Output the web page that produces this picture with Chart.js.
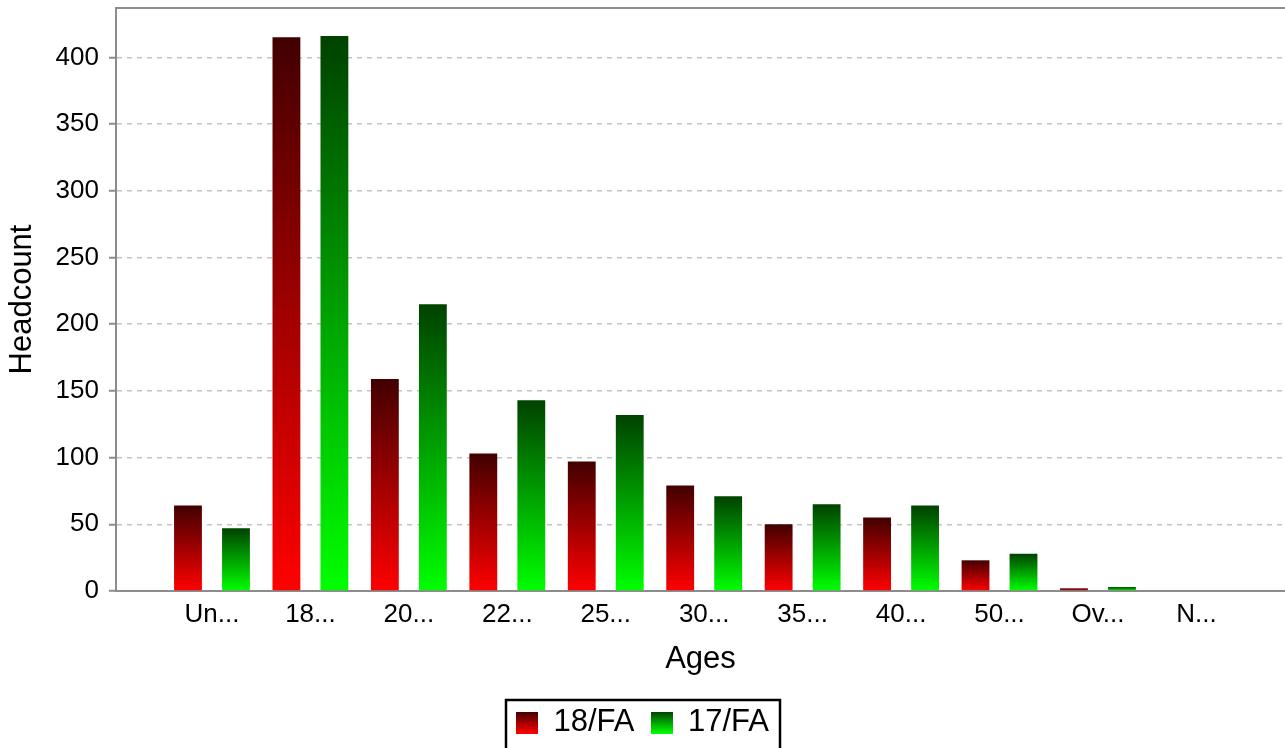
<!DOCTYPE html>
<html>
<head>
<meta charset="utf-8">
<script src="https://cdn.jsdelivr.net/npm/chart.js@4.4.1/dist/chart.umd.min.js"></script>
<style>
  html, body { margin: 0; padding: 0; background: #fff; }
  #wrap { width: 1285px; height: 748px; }
</style>
</head>
<body>
<div id="wrap"><canvas id="chart"></canvas></div>
<script>
const ageGroups = ['Un...', '18...', '20...', '22...', '25...', '30...', '35...', '40...', '50...', 'Ov...', 'N...'];
const headcount18 = [64, 415, 159, 103, 97, 79, 50, 55, 23, 2, 0];
const headcount17 = [47, 416, 215, 143, 132, 71, 65, 64, 28, 3, 0];
const yTicks = [0, 50, 100, 150, 200, 250, 300, 350, 400];
const seriesNames = ['18/FA', '17/FA'];

const FONT = "'Liberation Sans', Arial, sans-serif";
const reds = ['#420000', '#ff0000'];
const greens = ['#004200', '#00ff00'];

// vertical gradient per bar, dark on top
function barGradient(cols) {
  return function(ctx) {
    const chart = ctx.chart;
    const y = chart.scales.y;
    if (!y || ctx.type !== 'data' || !ctx.parsed) return cols[1];
    const yTop = y.getPixelForValue(ctx.parsed.y);
    const yBase = y.getPixelForValue(0);
    if (!isFinite(yTop) || yBase - yTop < 1) return cols[0];
    const g = chart.ctx.createLinearGradient(0, yTop, 0, yBase);
    g.addColorStop(0, cols[0]);
    g.addColorStop(1, cols[1]);
    return g;
  };
}

function swatch(cols) {
  const c = document.createElement('canvas');
  c.width = 22; c.height = 22;
  const g = c.getContext('2d');
  const gr = g.createLinearGradient(0, 0, 0, 22);
  gr.addColorStop(0, cols[0]);
  gr.addColorStop(1, cols[1]);
  g.fillStyle = gr;
  g.fillRect(0, 0, 22, 22);
  return c;
}
const swatches = [swatch(reds), swatch(greens)];

const framePlugin = {
  id: 'frame',
  afterDraw(chart) {
    const ctx = chart.ctx;
    const area = chart.chartArea;
    ctx.save();
    ctx.strokeStyle = '#8c8c8c';
    ctx.lineWidth = 2;
    ctx.beginPath();
    ctx.moveTo(area.left, area.top);
    ctx.lineTo(chart.width, area.top);
    ctx.stroke();

    const boxes = chart.legend && chart.legend.legendHitBoxes;
    if (boxes && boxes.length) {
      const first = boxes[0], last = boxes[boxes.length - 1];
      const l = first.left - 10;
      const r = last.left + last.width + 11;
      const t = first.top - 7;
      ctx.strokeStyle = '#000';
      ctx.lineWidth = 2.5;
      ctx.strokeRect(l, t, r - l, chart.height + 10 - t);
    }
    ctx.restore();
  }
};

new Chart(document.getElementById('chart'), {
  type: 'bar',
  data: {
    datasets: [
      {
        label: seriesNames[0],
        data: headcount18.map((v, i) => ({ x: i, y: v })),
        backgroundColor: barGradient(reds),
        categoryPercentage: 0.975,
        barPercentage: 0.58
      },
      {
        label: seriesNames[1],
        data: headcount17.map((v, i) => ({ x: i, y: v })),
        backgroundColor: barGradient(greens),
        categoryPercentage: 0.975,
        barPercentage: 0.58
      }
    ]
  },
  options: {
    responsive: true,
    maintainAspectRatio: false,
    animation: false,
    layout: { padding: { top: 8, right: 0, left: 0, bottom: 0 } },
    plugins: {
      tooltip: { enabled: false },
      legend: {
        position: 'bottom',
        labels: {
          usePointStyle: true,
          boxWidth: 22,
          boxHeight: 22,
          padding: 16,
          color: '#000',
          font: { family: FONT, size: 31 },
          generateLabels: (chart) => chart.data.datasets.map((ds, i) => ({
            text: ds.label,
            pointStyle: swatches[i],
            fillStyle: i ? greens[1] : reds[1],
            strokeStyle: 'transparent',
            lineWidth: 0,
            hidden: false,
            datasetIndex: i
          }))
        }
      }
    },
    scales: {
      x: {
        type: 'linear',
        min: -0.975,
        max: 10.9,
        offset: false,
        grid: { display: false, offset: false },
        border: { color: '#8c8c8c', width: 2 },
        afterBuildTicks: (scale) => { scale.ticks = ageGroups.map((_, i) => ({ value: i })); },
        afterFit: (scale) => { scale.height = 100; },
        ticks: {
          autoSkip: false,
          maxRotation: 0,
          padding: 0,
          color: '#000',
          font: { family: FONT, size: 26 },
          callback: (v) => ageGroups[v]
        },
        title: {
          display: true,
          text: 'Ages',
          color: '#000',
          font: { family: FONT, size: 31 },
          padding: { top: 0, bottom: 13 }
        }
      },
      y: {
        min: 0,
        max: 437,
        grid: {
          color: '#c4c4c4',
          lineWidth: 1.5,
          tickLength: 7,
          tickColor: '#8c8c8c',
          tickWidth: 2
        },
        border: { color: '#8c8c8c', width: 2, dash: [5, 5] },
        afterBuildTicks: (scale) => { scale.ticks = yTicks.map((v) => ({ value: v })); },
        afterFit: (scale) => { scale.width = 116; scale.paddingTop = 0; scale.paddingBottom = 0; },
        ticks: {
          padding: 10,
          color: '#000',
          font: { family: FONT, size: 26 }
        },
        title: {
          display: true,
          text: 'Headcount',
          color: '#000',
          font: { family: FONT, size: 31 },
          padding: { top: 4, bottom: 0 }
        }
      }
    }
  },
  plugins: [framePlugin]
});
</script>
</body>
</html>
